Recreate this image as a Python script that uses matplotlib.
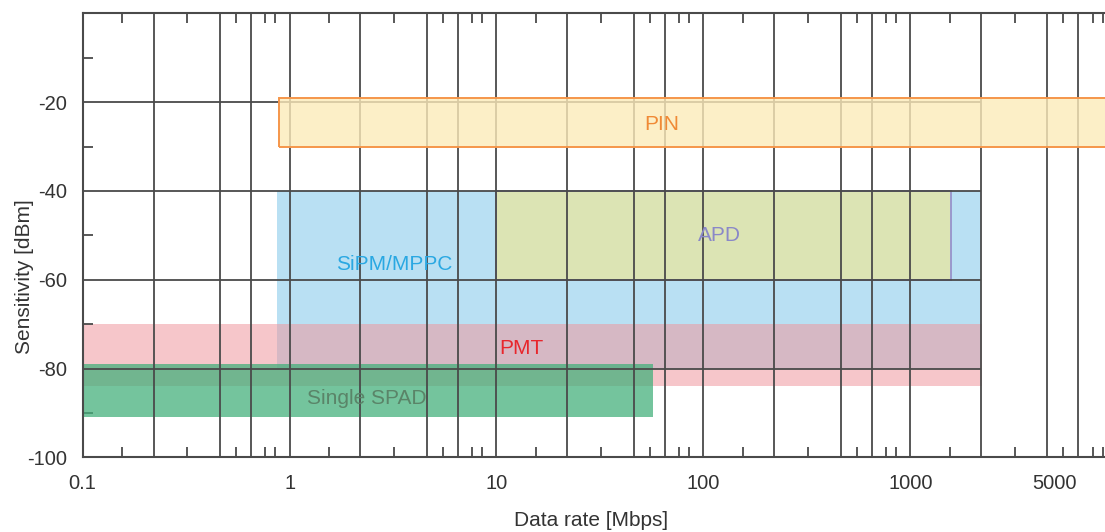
import matplotlib
matplotlib.use('Agg')
import matplotlib.pyplot as plt
from matplotlib.patches import Rectangle
from matplotlib.ticker import NullFormatter

plt.rcParams['font.family'] = ['Liberation Sans', 'DejaVu Sans']
plt.rcParams['axes.unicode_minus'] = False

# detector ranges: data rate [Mbps] x sensitivity [dBm]
detectors = ["PIN", "SiPM/MPPC", "APD", "PMT", "Single SPAD"]
rate_lo = [0.89, 0.87, 10, 0.1, 0.1]
rate_hi = [1e5, 2200, 1580, 2230, 57]
sens_hi = [-19, -40, -40, -70, -79]
sens_lo = [-30, -80, -60, -84, -91]

# where the names sit
label_x = [63, 3.2, 119, 13.2, 2.35]
label_y = [-25, -56.5, -50, -75.6, -86.7]

xticks = [0.1, 1, 10, 100, 1000, 5000]
xticklabels = ["0.1", "1", "10", "100", "1000", "5000"]
yticks = [-100, -80, -60, -40, -20]
yticklabels = ["-100", "-80", "-60", "-40", "-20"]
yminor = [-90, -70, -50, -30, -10]
hgrid = [-20, -40, -60, -80]

# the grid of the original is not at the usual 2..9 positions
decades = [0.1, 1, 10, 100, 1000]
grid_steps = [2.2, 4.6, 6.5]
minor_steps = [1.55, 3.2, 5.5, 7.6, 8.5]

# styles
face = ["#fcebba", "#b9e0f3", "#dce4b4", "#ef979f", "#45b07c"]
alpha = [0.8, 1.0, 1.0, 0.55, 0.75]
edge = ["#f5964a", "none", "#9a98cc", "none", "none"]
zord = [3, 1, 1.2, 1.4, 1.6]
txtcol = ["#f08a36", "#2aa8e2", "#8a88c8", "#e8262c", "#5a8468"]

gc = "#4a4a4a"

fig = plt.figure(figsize=(11.05, 5.32), dpi=100)
ax = fig.add_axes([0.0748, 0.1404, 0.9252, 0.8346])
ax.set_xscale('log')
ax.set_xlim(0.1, 8730)
ax.set_ylim(-100, 0)

for i, name in enumerate(detectors):
    r = Rectangle((rate_lo[i], sens_lo[i]), rate_hi[i] - rate_lo[i], sens_hi[i] - sens_lo[i],
                  facecolor=face[i], alpha=alpha[i], edgecolor='none', zorder=zord[i])
    ax.add_patch(r)
    if edge[i] != "none":
        r2 = Rectangle((rate_lo[i], sens_lo[i]), rate_hi[i] - rate_lo[i], sens_hi[i] - sens_lo[i],
                       facecolor='none', edgecolor=edge[i], lw=1.4, zorder=zord[i] + 0.05)
        ax.add_patch(r2)
    ax.text(label_x[i], label_y[i], name, color=txtcol[i], fontsize=15,
            ha='center', va='center', zorder=5)

vgrid = [d * s for d in decades for s in grid_steps] + decades[1:]
for v in vgrid:
    ax.axvline(v, color=gc, lw=1.3, zorder=2)
ax.hlines(hgrid, 0.1, 2200, color=gc, lw=1.3, zorder=2)

ax.set_xticks(xticks)
ax.set_xticklabels(xticklabels)
ax.set_xticks([d * s for d in decades for s in minor_steps], minor=True)
ax.xaxis.set_minor_formatter(NullFormatter())
ax.set_yticks(yticks)
ax.set_yticklabels(yticklabels)
ax.set_yticks(yminor, minor=True)

ax.tick_params(which='major', length=0, labelsize=14.5, colors='#333333')
ax.tick_params(axis='x', which='major', pad=12)
ax.tick_params(axis='y', which='major', pad=11)
ax.tick_params(which='minor', direction='in', length=7, width=1.3, color=gc,
               top=True, bottom=True)

for s in ['left', 'top', 'bottom']:
    ax.spines[s].set_color(gc)
    ax.spines[s].set_linewidth(1.5)
ax.spines['right'].set_visible(False)

ax.set_xlabel('Data rate [Mbps]', fontsize=15, color='#333333')
ax.set_ylabel('Sensitivity [dBm]', fontsize=15, color='#333333')
ax.xaxis.set_label_coords(0.497, -0.12)
ax.yaxis.set_label_coords(-0.048, 0.408)

fig.savefig('out.png', dpi=100)
